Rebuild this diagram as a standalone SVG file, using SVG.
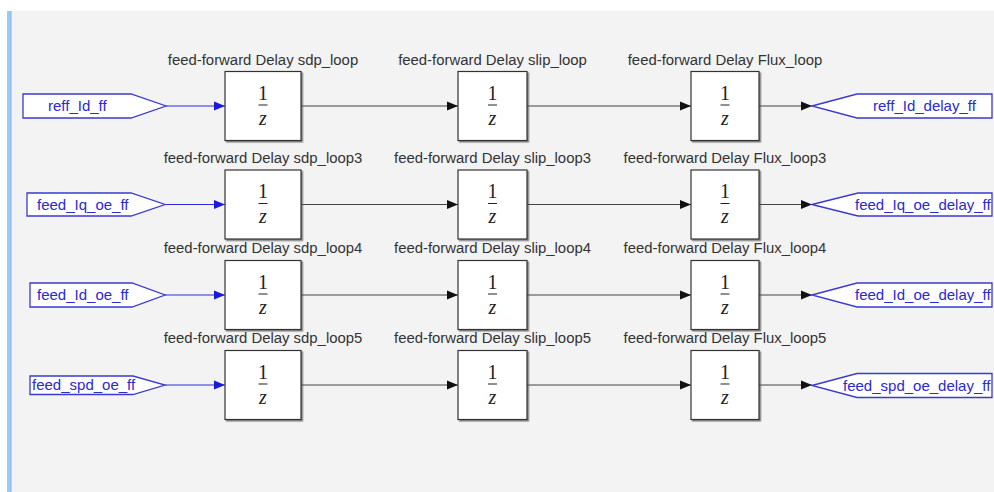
<svg xmlns="http://www.w3.org/2000/svg" width="994" height="492" viewBox="0 0 994 492">
<defs>
<marker id="ab" viewBox="0 0 10 10" refX="10" refY="5" markerWidth="11" markerHeight="11" markerUnits="userSpaceOnUse" orient="auto"><path d="M0,1 L10,5 L0,9 Z" fill="#111"/></marker>
<marker id="abl" viewBox="0 0 10 10" refX="10" refY="5" markerWidth="11" markerHeight="11" markerUnits="userSpaceOnUse" orient="auto"><path d="M0,1 L10,5 L0,9 Z" fill="#1a1ad8"/></marker>
<filter id="sh" x="-10%" y="-10%" width="130%" height="130%"><feDropShadow dx="1.5" dy="1.5" stdDeviation="0.6" flood-color="#555" flood-opacity="0.7"/></filter>
</defs>
<style>
.lbl{font-family:"Liberation Sans",Arial,sans-serif;font-size:14.9px;fill:#333;text-anchor:middle}
.blk{fill:#fff;stroke:#333;stroke-width:1.2;filter:url(#sh)}
.one{font-family:"Liberation Serif","Times New Roman",serif;font-size:20px;fill:#222;text-anchor:middle}
.z{font-family:"Liberation Serif","Times New Roman",serif;font-style:italic;font-size:20px;fill:#222;text-anchor:middle}
.bar{stroke:#222;stroke-width:1}
.port{fill:#fff;stroke:#3a3ad0;stroke-width:1.3}
.ptxt{font-family:"Liberation Sans",Arial,sans-serif;font-size:15px;fill:#2a2ad0}
.wb{stroke:#444;stroke-width:1;fill:none;marker-end:url(#ab)}
.wblue{stroke:#2a2ad8;stroke-width:1;fill:none;marker-end:url(#abl)}
</style>
<rect x="0" y="0" width="994" height="492" fill="#fff"/>
<rect x="11" y="11" width="983" height="481" fill="#f3f3f3"/>
<rect x="7" y="11" width="4" height="481" fill="#9ccbf2"/>
<rect x="10.5" y="11" width="1" height="481" fill="#7fb6e6"/>

<g id="connectors">
<line class="wblue" x1="166" y1="106" x2="225" y2="106"/>
<line class="wb" x1="301" y1="106" x2="458" y2="106"/>
<line class="wb" x1="527" y1="106" x2="691" y2="106"/>
<line class="wb" x1="759" y1="106" x2="812" y2="106"/>
<line class="wblue" x1="165" y1="204.5" x2="225" y2="204.5"/>
<line class="wb" x1="301" y1="204.5" x2="458" y2="204.5"/>
<line class="wb" x1="527" y1="204.5" x2="691" y2="204.5"/>
<line class="wb" x1="759" y1="204.5" x2="812" y2="204.5"/>
<line class="wblue" x1="165" y1="295" x2="225" y2="295"/>
<line class="wb" x1="301" y1="295" x2="458" y2="295"/>
<line class="wb" x1="527" y1="295" x2="691" y2="295"/>
<line class="wb" x1="759" y1="295" x2="812" y2="295"/>
<line class="wblue" x1="165" y1="385" x2="225" y2="385"/>
<line class="wb" x1="301" y1="385" x2="458" y2="385"/>
<line class="wb" x1="527" y1="385" x2="691" y2="385"/>
<line class="wb" x1="759" y1="385" x2="812" y2="385"/>
</g>

<!-- input ports -->
<g id="in1"><path class="port" d="M23,94 H131 L166,106 L131,118 H23 Z"/><text class="ptxt" x="48" y="111">reff_Id_ff</text></g>
<g id="in2"><path class="port" d="M27,193 H131 L165,204.5 L131,216 H27 Z"/><text class="ptxt" x="37" y="209.5">feed_Iq_oe_ff</text></g>
<g id="in3"><path class="port" d="M30,283 H132 L165,295 L132,307 H30 Z"/><text class="ptxt" x="37" y="300">feed_Id_oe_ff</text></g>
<g id="in4"><path class="port" d="M30,376 H133 L165,385 L133,394.5 H30 Z"/><text class="ptxt" x="32" y="390">feed_spd_oe_ff</text></g>

<!-- output ports -->
<g id="out1"><path class="port" d="M812,106 L857,94 H992 V118 H857 Z"/><text class="ptxt" x="873" y="111">reff_Id_delay_ff</text></g>
<g id="out2"><path class="port" d="M812,204.5 L858,193 H992 V216 H858 Z"/><text class="ptxt" x="855" y="209.5">feed_Iq_oe_delay_ff</text></g>
<g id="out3"><path class="port" d="M812,295 L857,283 H992 V307 H857 Z"/><text class="ptxt" x="855" y="300">feed_Id_oe_delay_ff</text></g>
<g id="out4"><path class="port" d="M812,385.5 L857,373.5 H992 V397.5 H857 Z"/><text class="ptxt" x="843" y="390.5">feed_spd_oe_delay_ff</text></g>

<!-- row 1 -->
<g id="d_sdp"><text class="lbl" x="263" y="65">feed-forward Delay sdp_loop</text><rect class="blk" x="225" y="71.5" width="76" height="69"/><text class="one" x="263" y="99.5">1</text><line class="bar" x1="258.5" y1="105" x2="267.5" y2="105"/><text class="z" x="263" y="124.5">z</text></g>
<g id="d_slip"><text class="lbl" x="492.5" y="65">feed-forward Delay slip_loop</text><rect class="blk" x="458" y="71.5" width="69" height="69"/><text class="one" x="492.5" y="99.5">1</text><line class="bar" x1="488" y1="105" x2="497" y2="105"/><text class="z" x="492.5" y="124.5">z</text></g>
<g id="d_flux"><text class="lbl" x="725" y="65">feed-forward Delay Flux_loop</text><rect class="blk" x="691" y="71.5" width="68" height="69"/><text class="one" x="725" y="99.5">1</text><line class="bar" x1="720.5" y1="105" x2="729.5" y2="105"/><text class="z" x="725" y="124.5">z</text></g>

<!-- row 2 -->
<g id="d_sdp3"><text class="lbl" x="263" y="163">feed-forward Delay sdp_loop3</text><rect class="blk" x="225" y="170" width="76" height="69"/><text class="one" x="263" y="198">1</text><line class="bar" x1="258.5" y1="203.5" x2="267.5" y2="203.5"/><text class="z" x="263" y="223">z</text></g>
<g id="d_slip3"><text class="lbl" x="492.5" y="163">feed-forward Delay slip_loop3</text><rect class="blk" x="458" y="170" width="69" height="69"/><text class="one" x="492.5" y="198">1</text><line class="bar" x1="488" y1="203.5" x2="497" y2="203.5"/><text class="z" x="492.5" y="223">z</text></g>
<g id="d_flux3"><text class="lbl" x="725" y="163">feed-forward Delay Flux_loop3</text><rect class="blk" x="691" y="170" width="68" height="69"/><text class="one" x="725" y="198">1</text><line class="bar" x1="720.5" y1="203.5" x2="729.5" y2="203.5"/><text class="z" x="725" y="223">z</text></g>

<!-- row 3 -->
<g id="d_sdp4"><text class="lbl" x="263" y="253">feed-forward Delay sdp_loop4</text><rect class="blk" x="225" y="260.5" width="76" height="69"/><text class="one" x="263" y="288.5">1</text><line class="bar" x1="258.5" y1="294" x2="267.5" y2="294"/><text class="z" x="263" y="313.5">z</text></g>
<g id="d_slip4"><text class="lbl" x="492.5" y="253">feed-forward Delay slip_loop4</text><rect class="blk" x="458" y="260.5" width="69" height="69"/><text class="one" x="492.5" y="288.5">1</text><line class="bar" x1="488" y1="294" x2="497" y2="294"/><text class="z" x="492.5" y="313.5">z</text></g>
<g id="d_flux4"><text class="lbl" x="725" y="253">feed-forward Delay Flux_loop4</text><rect class="blk" x="691" y="260.5" width="68" height="69"/><text class="one" x="725" y="288.5">1</text><line class="bar" x1="720.5" y1="294" x2="729.5" y2="294"/><text class="z" x="725" y="313.5">z</text></g>

<!-- row 4 -->
<g id="d_sdp5"><text class="lbl" x="263" y="343">feed-forward Delay sdp_loop5</text><rect class="blk" x="225" y="350.5" width="76" height="69"/><text class="one" x="263" y="378.5">1</text><line class="bar" x1="258.5" y1="384" x2="267.5" y2="384"/><text class="z" x="263" y="403.5">z</text></g>
<g id="d_slip5"><text class="lbl" x="492.5" y="343">feed-forward Delay slip_loop5</text><rect class="blk" x="458" y="350.5" width="69" height="69"/><text class="one" x="492.5" y="378.5">1</text><line class="bar" x1="488" y1="384" x2="497" y2="384"/><text class="z" x="492.5" y="403.5">z</text></g>
<g id="d_flux5"><text class="lbl" x="725" y="343">feed-forward Delay Flux_loop5</text><rect class="blk" x="691" y="350.5" width="68" height="69"/><text class="one" x="725" y="378.5">1</text><line class="bar" x1="720.5" y1="384" x2="729.5" y2="384"/><text class="z" x="725" y="403.5">z</text></g>
</svg>
